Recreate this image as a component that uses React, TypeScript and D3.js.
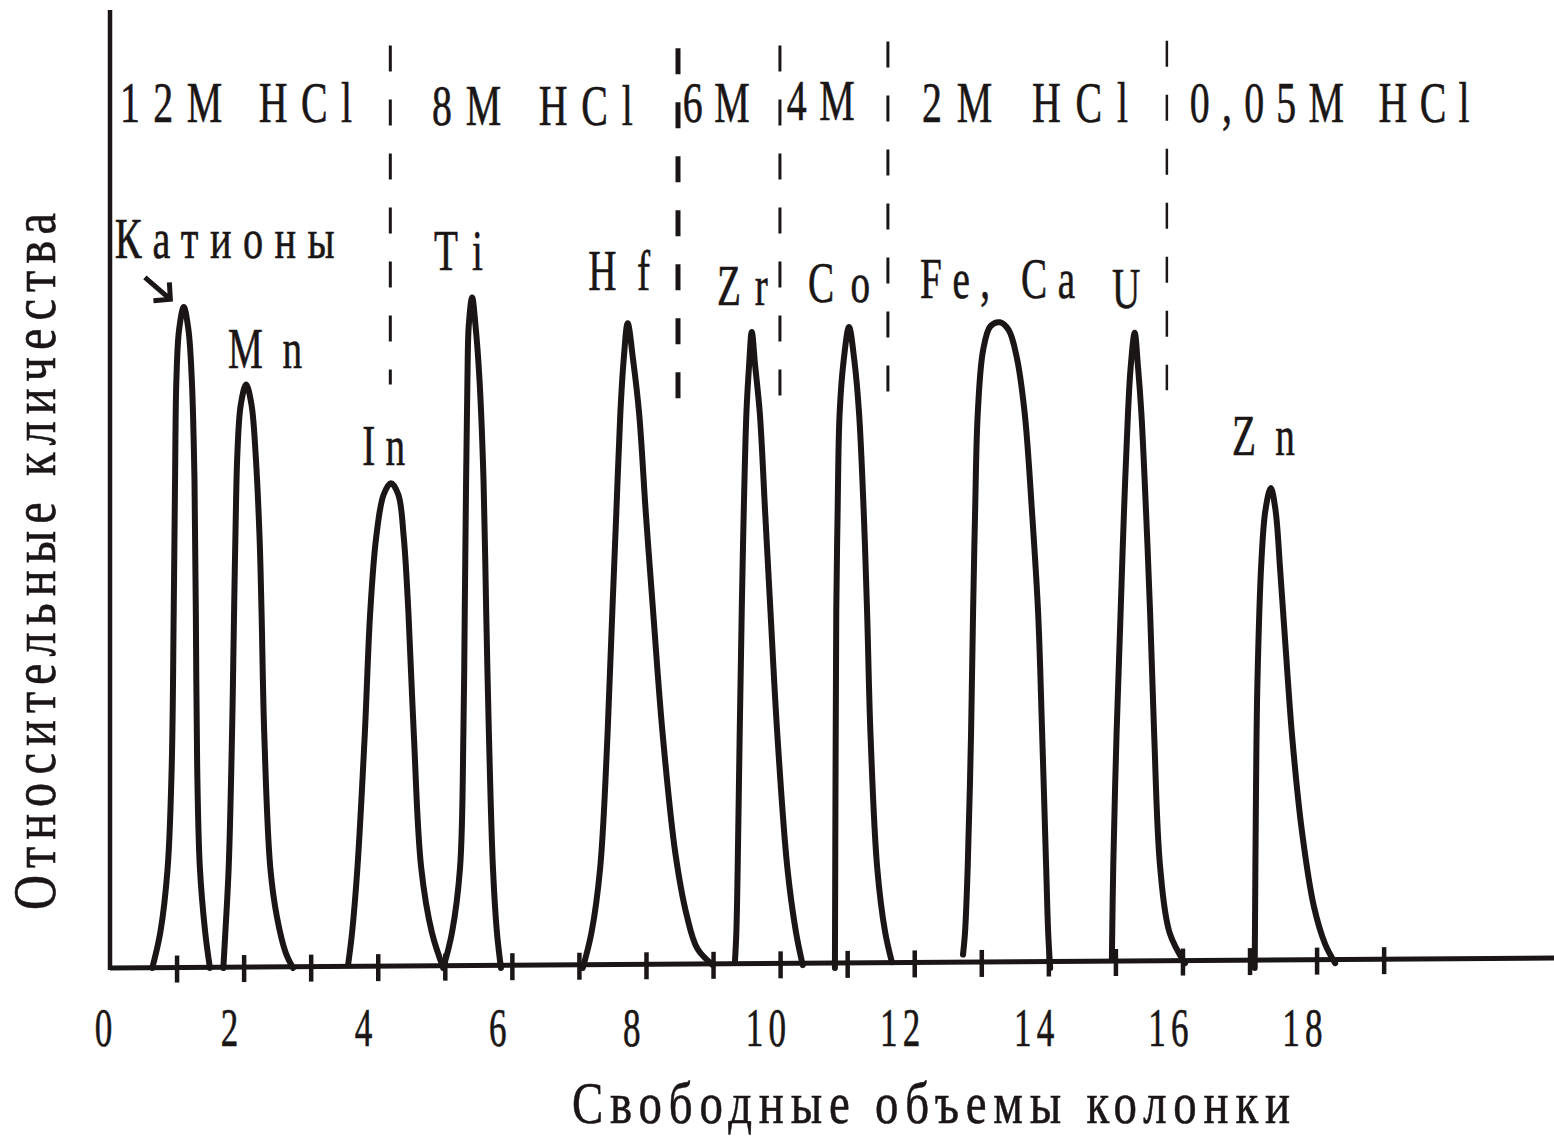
import React, { useEffect, useRef } from "react";
import * as d3 from "d3";

type Pt = [number, number];

// peak names as written on the chart
const peakNames = ["Катионы", "Mn", "In", "Ti", "Hf", "Zr", "Co", "Fe, Ca", "U", "Zn"];

// traced peaks: [free column volumes, relative amount]
const cationsPeak: Pt[] = [[0.63, 0], [0.75, 3.7], [0.86, 10.5], [0.92, 21.0], [0.95, 37.1], [0.97, 50.9], [0.99, 61.4], [1.03, 66.6], [1.1, 69.0], [1.17, 66.6], [1.22, 61.4], [1.26, 50.9], [1.28, 37.1], [1.3, 21.0], [1.34, 10.5], [1.42, 3.7], [1.49, 0]];
const mnPeak: Pt[] = [[1.69, 0], [1.72, 3.7], [1.77, 10.5], [1.82, 24.5], [1.85, 37.1], [1.87, 45.0], [1.9, 53.8], [1.95, 58.8], [2.03, 60.9], [2.11, 58.8], [2.17, 53.8], [2.23, 45.0], [2.26, 37.1], [2.3, 24.5], [2.39, 10.5], [2.49, 5.3], [2.62, 1.6], [2.73, 0]];
const inPeak: Pt[] = [[3.55, 0.3], [3.61, 3.7], [3.69, 10.5], [3.8, 24.5], [3.88, 37.1], [3.97, 45.0], [4.08, 49.4], [4.19, 50.6], [4.3, 49.4], [4.38, 45.0], [4.45, 37.1], [4.53, 24.5], [4.64, 10.5], [4.8, 3.7], [4.97, 0]];
const tiPeak: Pt[] = [[4.97, 0], [5.1, 3.7], [5.22, 10.5], [5.27, 24.5], [5.29, 37.1], [5.31, 50.9], [5.33, 61.4], [5.35, 67.1], [5.4, 70.0], [5.45, 67.1], [5.51, 61.4], [5.57, 50.9], [5.61, 37.1], [5.65, 24.5], [5.71, 10.5], [5.77, 3.7], [5.83, 0]];
const hfPeak: Pt[] = [[7.05, 0], [7.18, 3.7], [7.31, 10.5], [7.42, 24.5], [7.49, 37.1], [7.55, 47.5], [7.61, 57.9], [7.66, 63.5], [7.72, 67.3], [7.8, 63.5], [7.89, 57.9], [7.99, 47.5], [8.1, 37.1], [8.24, 24.5], [8.43, 12.0], [8.6, 5.5], [8.76, 2.0], [8.99, 0.3]];
const zrPeak: Pt[] = [[9.32, 0.8], [9.34, 3.7], [9.36, 10.5], [9.39, 24.5], [9.42, 37.1], [9.45, 47.5], [9.49, 57.9], [9.53, 62.9], [9.57, 66.4], [9.62, 62.9], [9.69, 57.9], [9.77, 47.5], [9.85, 37.1], [9.95, 24.5], [10.1, 10.5], [10.23, 3.7], [10.33, 0.3]];
const coPeak: Pt[] = [[10.81, 0], [10.82, 21.7], [10.83, 37.1], [10.85, 47.5], [10.88, 57.9], [10.94, 63.4], [11.02, 66.9], [11.1, 63.4], [11.17, 57.9], [11.24, 47.5], [11.29, 37.1], [11.34, 24.5], [11.44, 10.5], [11.56, 3.7], [11.66, 0.6]];
const feCaPeak: Pt[] = [[12.72, 1.4], [12.75, 3.7], [12.79, 10.5], [12.84, 24.5], [12.87, 37.1], [12.9, 47.5], [12.94, 57.9], [13.02, 64.5], [13.13, 67.0], [13.27, 67.4], [13.4, 66.6], [13.52, 63.8], [13.64, 57.9], [13.75, 47.5], [13.84, 37.1], [13.9, 24.5], [13.96, 10.5], [13.99, 3.7], [14.02, 0]];
const uPeak: Pt[] = [[14.94, 1.0], [14.96, 10.5], [15.01, 24.5], [15.07, 37.1], [15.12, 47.5], [15.18, 57.9], [15.22, 62.7], [15.28, 66.3], [15.33, 62.7], [15.38, 57.9], [15.45, 47.5], [15.51, 37.1], [15.57, 24.5], [15.66, 10.5], [15.8, 3.7], [16.03, 0.5]];
const znPeak: Pt[] = [[17.07, 0], [17.09, 19.3], [17.11, 29.7], [17.17, 42.5], [17.23, 47.8], [17.31, 50.1], [17.38, 47.8], [17.45, 41.5], [17.53, 33.5], [17.63, 24.0], [17.77, 14.5], [17.95, 6.5], [18.12, 2.5], [18.27, 0.5]];

const peaks = [cationsPeak, mnPeak, inPeak, tiPeak, hfPeak, zrPeak, coPeak, feCaPeak, uPeak, znPeak];

// eluents and the column volumes where the eluent is changed
const eluents = ["12M HCl", "8M HCl", "6M", "4M", "2M HCl", "0,05M HCl"];
const eluentChanges = [4.18, 8.47, 9.99, 11.6, 15.76];

const tickMarks = [1, 2, 3, 4, 5, 6, 7, 8, 9, 10, 11, 12, 13, 14, 15, 16, 17, 18, 19];
const tickLabels = [0, 2, 4, 6, 8, 10, 12, 14, 16, 18];
const baseline: Pt[] = [[0, 0], [21.6, 1.05]];

const xTitle = "Свободные объемы колонки";
const yTitle = "Относительные кличества";

// layout of annotations: [x in column volumes, y in relative amount, text width px]
const peakLabelAt: [number, number, number][] = [
  [0.07, 74.1, 220], [1.76, 62.6, 74], [3.76, 52.5, 43], [4.83, 72.9, 49], [7.13, 70.8, 62],
  [9.05, 69.2, 51], [10.41, 69.5, 62], [12.08, 69.9, 155], [14.94, 68.9, 26], [16.73, 53.5, 63],
];
const eluentLabelAt: [number, number, number][] = [
  [0.15, 88.3, 232], [4.8, 88.0, 201], [8.54, 88.3, 67], [10.09, 88.5, 68], [12.11, 88.3, 206], [16.1, 88.3, 280],
];
const changeSpan: [number, number, number][] = [
  [96.3, 60.9, 3], [96.0, 59.0, 5], [96.3, 59.5, 3], [96.7, 60.1, 3], [96.8, 60.3, 2.5],
];

const INK = "#1b1616";
const FONT = "'Liberation Serif', 'Times New Roman', serif";

export default function App() {
  const ref = useRef<HTMLDivElement>(null);

  useEffect(() => {
    const container = d3.select(ref.current);
    container.selectAll("*").remove();
    const width = 1554;
    const height = 1137;

    const svg = container.append("svg")
      .attr("width", width).attr("height", height)
      .style("position", "absolute").style("left", 0).style("top", 0)
      .style("background", "#fff");

    const x = d3.scaleLinear().domain([0, 21.5]).range([110, 1551.8]);
    const y = d3.scaleLinear().domain([0, 100]).range([968, 10]);
    const baseV = d3.scaleLinear().domain([baseline[0][0], baseline[1][0]]).range([baseline[0][1], baseline[1][1]]);

    const text = (str: string, tx: number, ty: number, size: number, sx: number, w?: number, extra = "", anchor = "start", ls = 0) => {
      const t = svg.append("text")
        .attr("transform", `translate(${tx},${ty})${extra} scale(${sx},1)`)
        .attr("font-family", FONT).attr("font-size", size)
        .attr("fill", INK).attr("stroke", INK).attr("stroke-width", 0.6)
        .attr("text-anchor", anchor)
        .text(str);
      if (w) t.attr("textLength", w / sx).attr("lengthAdjust", "spacing");
      if (ls) t.attr("letter-spacing", ls);
      return t;
    };

    // axes
    svg.append("line")
      .attr("x1", x(0)).attr("x2", x(0)).attr("y1", y(0) + 2).attr("y2", y(100))
      .attr("stroke", INK).attr("stroke-width", 4.5);
    svg.append("path")
      .attr("d", d3.line<Pt>().x(d => x(d[0])).y(d => y(d[1]))(baseline))
      .attr("stroke", INK).attr("stroke-width", 5).attr("fill", "none");
    svg.selectAll("line.tick").data(tickMarks).join("line")
      .attr("class", "tick")
      .attr("x1", d => x(d)).attr("x2", d => x(d))
      .attr("y1", d => y(baseV(d)) - 12).attr("y2", d => y(baseV(d)) + 15)
      .attr("stroke", INK).attr("stroke-width", 4.5);

    tickLabels.forEach(v => text(String(v), x(v) - (v === 0 ? 4 : 12), 1046, 54, 0.65, undefined, "", "middle", 8));

    // eluent change lines
    eluentChanges.forEach((c, i) => {
      const [top, bottom, sw] = changeSpan[i];
      svg.append("line")
        .attr("x1", x(c)).attr("x2", x(c)).attr("y1", y(top)).attr("y2", y(bottom))
        .attr("stroke", INK).attr("stroke-width", sw).attr("stroke-dasharray", "26 28");
    });

    // peaks
    const line = d3.line<Pt>().x(d => x(d[0])).y(d => y(d[1])).curve(d3.curveCatmullRom.alpha(0.5));
    svg.selectAll("path.peak").data(peaks).join("path")
      .attr("class", "peak")
      .attr("d", d => line(d))
      .attr("fill", "none").attr("stroke", INK).attr("stroke-width", 6)
      .attr("stroke-linejoin", "round").attr("stroke-linecap", "round");

    // arrow to the cations peak
    const a0: Pt = [x(0.52), y(72.1)];
    const a1: Pt = [x(0.9), y(69.8)];
    const ang = Math.atan2(a1[1] - a0[1], a1[0] - a0[0]);
    svg.append("path")
      .attr("d", `M${a0[0]},${a0[1]}L${a1[0]},${a1[1]}` +
        `M${a1[0] - 17 * Math.cos(ang - 0.8)},${a1[1] - 17 * Math.sin(ang - 0.8)}L${a1[0]},${a1[1]}` +
        `L${a1[0] - 17 * Math.cos(ang + 0.8)},${a1[1] - 17 * Math.sin(ang + 0.8)}`)
      .attr("fill", "none").attr("stroke", INK).attr("stroke-width", 5);

    // labels
    peakNames.forEach((n, i) => {
      const [u, v, w] = peakLabelAt[i];
      text(n, x(u), y(v), 56, n === "Катионы" ? 0.72 : 0.7, w);
    });
    eluents.forEach((n, i) => {
      const [u, v, w] = eluentLabelAt[i];
      text(n, x(u), y(v), 57, 0.7, w);
    });

    text(xTitle, 572, 1123, 60, 0.78, 718);
    text(yTitle, 55, 910, 62, 0.78, 697, " rotate(-90)");
  }, []);

  return <div ref={ref} style={{ width: "100%" }}></div>;
}
